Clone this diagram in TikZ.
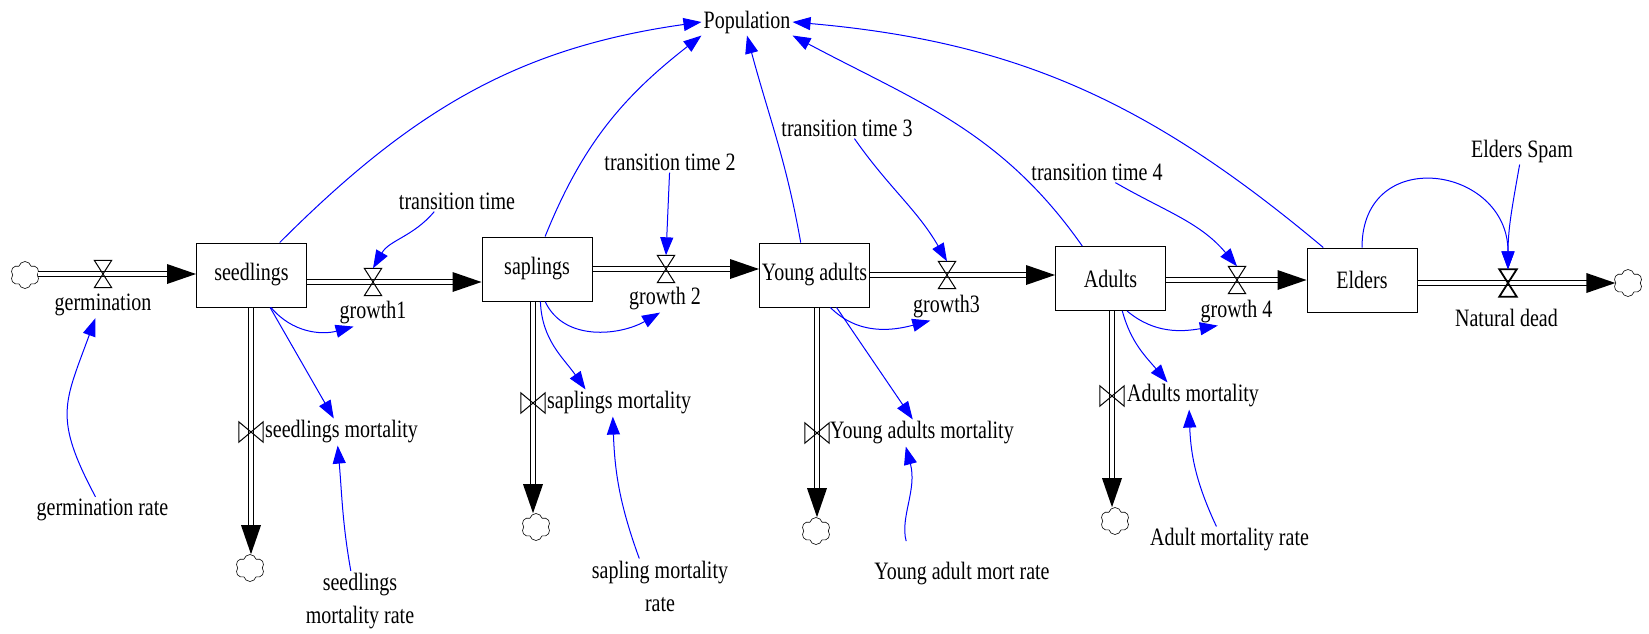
\documentclass[tikz,border=0pt]{standalone}
\usepackage{fontspec}
\setmainfont{Liberation Serif}[FakeStretch=0.8]
\usetikzlibrary{arrows.meta,shapes.symbols}

\begin{document}
\begin{tikzpicture}[x=1pt,y=1pt]
\tikzstyle{every node}=[font=\fontsize{25}{33}\selectfont, inner sep=2pt]
\tikzstyle{stock}=[draw, line width=1pt, minimum width=110pt, minimum height=64pt, inner sep=0pt]
\tikzstyle{hvalve}=[minimum width=17pt, minimum height=27pt, inner sep=0pt]
\tikzstyle{vvalve}=[minimum width=24pt, minimum height=20pt, inner sep=0pt]
\tikzstyle{sink}=[cloud, cloud puffs=6, cloud puff arc=150, draw, line width=0.6pt, minimum width=29pt, minimum height=27pt, inner sep=0pt]
\tikzstyle{pipe}=[double, double distance=4pt, line width=1.2pt, shorten >=20pt]
\tikzstyle{link}=[blue, line width=1pt, -{Triangle[length=18pt,width=13pt]}]
\useasboundingbox (0,0) rectangle (1649,-633);

% stocks
\draw (251.5,-275) node (seed) [stock] {seedlings};
\draw (537,-269) node (sapl) [stock] {saplings};
\draw (814.5,-275) node (young) [stock] {Young adults};
\draw (1110.5,-278.5) node (adult) [stock] {Adults};
\draw (1362,-280) node (elder) [stock] {Elders};

% valves
\draw (103,-274) node (germ) [hvalve] {};
\draw (373,-282) node (g1) [hvalve] {};
\draw (666,-269) node (g2) [hvalve] {};
\draw (947,-275) node (g3) [hvalve] {};
\draw (1237,-280) node (g4) [hvalve] {};
\draw (1508,-283) node (nd) [hvalve] {};
\draw (251,-432) node (smv) [vvalve] {};
\draw (533,-403) node (spv) [vvalve] {};
\draw (817,-433) node (yav) [vvalve] {};
\draw (1112,-396) node (adv) [vvalve] {};

% clouds
\draw (25,-275) node (cl0) [sink] {};
\draw (250,-568) node (cl1) [sink] {};
\draw (536,-527) node (cl2) [sink] {};
\draw (816,-531) node (cl3) [sink] {};
\draw (1115,-521) node (cl4) [sink] {};
\draw (1628,-283) node (cl5) [sink] {};

% flow names
\draw (103,-305) node (germination) {germination};
\draw (373,-313) node (growth1) {growth1};
\draw (665,-299) node (growth2) {growth 2};
\draw (946.5,-307) node (growth3) {growth3};
\draw (1236.5,-312) node (growth4) {growth 4};
\draw (1506.5,-318) node (ndead) {Natural dead};
\draw (263,-432) node (smort) [anchor=west] {seedlings mortality};
\draw (545,-403) node (spmort) [anchor=west] {saplings mortality};
\draw (828,-433) node (yamort) [anchor=west] {Young adults mortality};
\draw (1125,-396) node (admort) [anchor=west] {Adults mortality};

% auxiliaries
\draw (747,-22) node (pop) {Population};
\draw (457,-201) node (tt1) {transition time};
\draw (670,-162) node (tt2) {transition time 2};
\draw (847,-128) node (tt3) {transition time 3};
\draw (1097,-172) node (tt4) {transition time 4};
\draw (1522,-151) node (spam) {Elders Spam};
\draw (102.5,-510) node (germrate) {germination rate};
\draw (360,-601) node (smrate) [align=center] {seedlings\\mortality rate};
\draw (660,-586) node (sprate) [align=center] {sapling mortality\\rate};
\draw (962,-574) node (yarate) {Young adult mort rate};
\draw (1229.5,-540) node (adrate) {Adult mortality rate};

% flows
\draw[pipe] (cl0.east |- germ) -- (seed.west |- germ);
\fill (seed.west |- germ) -- ++(-29,10) -- ++(0,-20) -- cycle;
\draw[pipe] (seed.east |- g1) -- (sapl.west |- g1);
\fill (sapl.west |- g1) -- ++(-29,10) -- ++(0,-20) -- cycle;
\draw[pipe] (sapl.east |- g2) -- (young.west |- g2);
\fill (young.west |- g2) -- ++(-29,10) -- ++(0,-20) -- cycle;
\draw[pipe] (young.east |- g3) -- (adult.west |- g3);
\fill (adult.west |- g3) -- ++(-29,10) -- ++(0,-20) -- cycle;
\draw[pipe] (adult.east |- g4) -- (elder.west |- g4);
\fill (elder.west |- g4) -- ++(-29,10) -- ++(0,-20) -- cycle;
\draw[pipe] (elder.east |- nd) -- (cl5.west |- nd);
\fill (cl5.west |- nd) -- ++(-29,10) -- ++(0,-20) -- cycle;
\draw[pipe] (seed.south -| smv) -- (smv |- cl1.north);
\fill (smv |- cl1.north) -- ++(-10,29) -- ++(20,0) -- cycle;
\draw[pipe] (sapl.south -| spv) -- (spv |- cl2.north);
\fill (spv |- cl2.north) -- ++(-10,29) -- ++(20,0) -- cycle;
\draw[pipe] (young.south -| yav) -- (yav |- cl3.north);
\fill (yav |- cl3.north) -- ++(-10,29) -- ++(20,0) -- cycle;
\draw[pipe] (adult.south -| adv) -- (adv |- cl4.north);
\fill (adv |- cl4.north) -- ++(-10,29) -- ++(20,0) -- cycle;

\foreach \v in {germ,g1,g2,g3,g4}
  \draw[line width=1pt] (\v.south west) -- (\v.south east) -- (\v.north west) -- (\v.north east) -- cycle;
\draw[line width=1.8pt] (nd.south west) -- (nd.south east) -- (nd.north west) -- (nd.north east) -- cycle;
\foreach \v in {smv,spv,yav,adv}
  \draw[line width=1pt] (\v.north west) -- (\v.south west) -- (\v.north east) -- (\v.south east) -- cycle;

% links
\draw[link] (seed.49) to[out=45,in=188] (pop.west);
\draw[link] (sapl.76) to[out=68,in=218] (pop.south west);
\draw[link] (young.113) to[out=100,in=-75] (pop.south);
\draw[link] (adult.131) to[out=125,in=-28] (pop.south east);
\draw[link] (elder.140) to[out=140,in=-5] (pop.east);
\draw[link] (elder.north) to[out=90,in=90,looseness=1.8] (nd.north);
\draw[link] (spam) to[out=-100,in=90] (nd.north);
\draw[link] (tt1.-155) to[out=-130,in=60] (g1.north);
\draw[link] (tt2) -- (g2.north);
\draw[link] (tt3) to[out=-55,in=120] (g3.north);
\draw[link] (tt4) to[out=-30,in=130] (g4.north);
\draw[link] (seed.-59) to[out=-50,in=195] (growth1.-145);
\draw[link] (sapl.-76) to[out=-65,in=210] (growth2.-110);
\draw[link] (young.-64) to[out=-45,in=195] (growth3.-140);
\draw[link] (adult.-63) to[out=-40,in=190] (growth4.-144);
\draw[link] (seed) -- (smort);
\draw[link] (sapl.-84) to[out=-88,in=125] (spmort.158);
\draw[link] (young) -- (yamort);
\draw[link] (adult.-70) to[out=-75,in=130] (admort.152);
\draw[link] (germrate.118) to[out=118,in=-110,looseness=1.3] (germination.-120);
\draw[link] (smrate.107) to[out=100,in=-85] (smort.-106);
\draw[link] (sprate.127) to[out=110,in=-88] (spmort.-115);
\draw[link,shorten <=20pt] (yarate.165) to[out=105,in=-75] (yamort.-140);
\draw[link] (adrate.134) to[out=115,in=-88] (admort.-106);
\end{tikzpicture}
\end{document}
